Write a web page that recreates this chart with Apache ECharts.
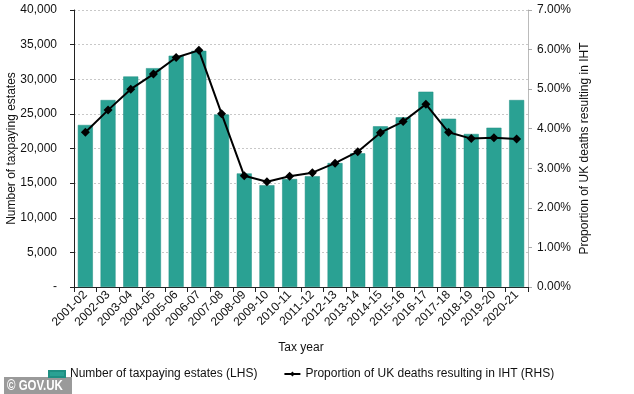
<!DOCTYPE html>
<html><head><meta charset="utf-8">
<script src="https://cdn.jsdelivr.net/npm/echarts@6/dist/echarts.min.js"></script>
<style>html,body{margin:0;padding:0;background:#fff}#c{width:634px;height:394px}</style>
</head><body><div id="c"></div>
<script>
const categories = ['2001-02','2002-03','2003-04','2004-05','2005-06','2006-07','2007-08','2008-09','2009-10','2010-11','2011-12','2012-13','2013-14','2014-15','2015-16','2016-17','2017-18','2018-19','2019-20','2020-21'];
const estates = [23400,27000,30400,31600,33400,34100,24900,16400,14700,15600,16000,17900,19300,23200,24500,28200,24300,22100,23000,27000];
const proportion = [3.91,4.47,5.00,5.38,5.80,5.98,4.38,2.81,2.66,2.80,2.89,3.13,3.42,3.90,4.18,4.62,3.91,3.75,3.77,3.74];
const leftTicks = [0,5000,10000,15000,20000,25000,30000,35000,40000];
const rightTicks = [0,1,2,3,4,5,6,7];

const font = 'Liberation Sans, Arial, sans-serif';
const chart = echarts.init(document.getElementById('c'));
chart.setOption({
  animation: false,
  textStyle: {fontFamily: font},
  grid: {left: 74, right: 106, top: 10, bottom: 107, containLabel: false, outerBoundsMode: 'none'},
  legend: {
    bottom: 9, left: 43, itemGap: 26, itemWidth: 16, itemHeight: 6,
    textStyle: {fontSize: 12, color: '#111', fontFamily: font},
    data: [
      {name: 'Number of taxpaying estates (LHS)', icon: 'rect'},
      {name: 'Proportion of UK deaths resulting in IHT (RHS)'}
    ]
  },
  xAxis: {
    type: 'category', data: categories,
    name: 'Tax year', nameLocation: 'middle', nameGap: 55, nameMoveOverlap: false,
    nameTextStyle: {fontSize: 12, color: '#111'},
    axisLine: {lineStyle: {color: '#222', width: 1}},
    axisTick: {show: true, alignWithLabel: false, length: 5, lineStyle: {color: '#222'}},
    axisLabel: {rotate: 45, fontSize: 12, color: '#111', margin: 6, interval: 0}
  },
  yAxis: [
    {
      type: 'value', min: 0, max: 40000, interval: 5000,
      name: 'Number of taxpaying estates', nameLocation: 'middle', nameGap: 56, nameMoveOverlap: false,
      nameTextStyle: {fontSize: 12, color: '#111'},
      axisLine: {show: true, lineStyle: {color: '#222'}},
      axisTick: {show: true, length: 4, lineStyle: {color: '#222'}},
      axisLabel: {fontSize: 12, color: '#111', margin: 17,
        formatter: v => v === 0 ? '-' : v.toLocaleString('en-GB')},
      splitLine: {show: true, lineStyle: {color: '#c8c8c8', type: [2, 2]}}
    },
    {
      type: 'value', min: 0, max: 7, interval: 1, position: 'right',
      name: 'Proportion of UK deaths resulting in IHT', nameLocation: 'middle', nameGap: 51, nameMoveOverlap: false,
      nameTextStyle: {fontSize: 12, color: '#111'},
      axisLine: {show: true, lineStyle: {color: '#bbb'}},
      axisTick: {show: true, length: 4, lineStyle: {color: '#aaa'}},
      axisLabel: {fontSize: 12, color: '#111', margin: 9, formatter: v => v.toFixed(2) + '%'},
      splitLine: {show: false}
    }
  ],
  series: [
    {
      name: 'Number of taxpaying estates (LHS)', type: 'bar', data: estates,
      barCategoryGap: '34%',
      itemStyle: {color: '#2aa193', borderColor: '#1f8f82', borderWidth: 0.5}
    },
    {
      name: 'Proportion of UK deaths resulting in IHT (RHS)', type: 'line', yAxisIndex: 1,
      data: proportion, symbol: 'diamond', symbolSize: 9,
      lineStyle: {color: '#000', width: 2}, itemStyle: {color: '#000'}
    }
  ],
  graphic: [
    {type: 'rect', left: 4, top: 377, shape: {width: 68, height: 17}, style: {fill: '#9a9a9a'}},
    {type: 'text', x: 7, y: 379, scaleX: 0.82, style: {text: '© GOV.UK', fill: '#fff', font: 'bold 14px Liberation Sans, Arial, sans-serif'}}
  ]
});
</script></body></html>
